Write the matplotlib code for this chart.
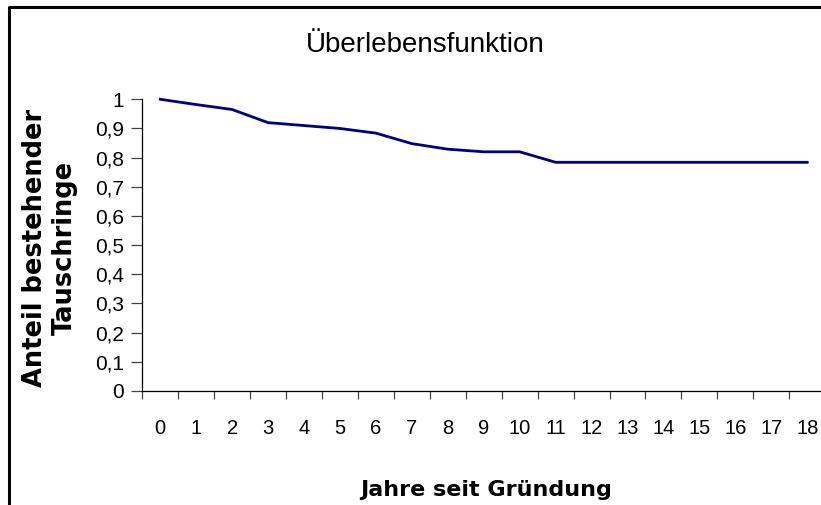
import matplotlib
matplotlib.use("Agg")
from matplotlib import pyplot as plt
from matplotlib.lines import Line2D
import numpy as np

# Jahre seit Gruendung und Anteil bestehender Tauschringe
YEARS = list(range(19))
SURVIVAL = [1.0, 0.982, 0.965, 0.92, 0.91, 0.90, 0.884, 0.848, 0.829, 0.82, 0.82,
            0.784, 0.784, 0.784, 0.784, 0.784, 0.784, 0.784, 0.784]
Y_TICKS = [0, 0.1, 0.2, 0.3, 0.4, 0.5, 0.6, 0.7, 0.8, 0.9, 1]
Y_TICK_LABELS = ["0", "0,1", "0,2", "0,3", "0,4", "0,5", "0,6", "0,7", "0,8", "0,9", "1"]

W, H = 821, 505
plt.rcParams["font.family"] = ["Liberation Sans", "DejaVu Sans"]

fig = plt.figure(figsize=(W / 100, H / 100), dpi=100)
ax = fig.add_axes([142.3 / W, 1 - 391 / H, 682.9 / W, (391 - 99.3) / H])

ax.plot(YEARS, SURVIVAL, color="#000080", linewidth=2.0, clip_on=False, solid_joinstyle="miter")

ax.set_xlim(-0.5, 18.5)
ax.set_ylim(0, 1)

for s in ["top", "right"]:
    ax.spines[s].set_visible(False)
for s in ["left", "bottom"]:
    ax.spines[s].set_linewidth(0.9)
    ax.spines[s].set_color("black")

ax.set_yticks(Y_TICKS)
ax.set_yticklabels(Y_TICK_LABELS, fontsize=15)
ax.tick_params(axis="y", length=8, width=0.9, color="#444444", pad=5)

# category boundaries get tick marks, category centres get the labels
ax.set_xticks(np.arange(-0.5, 19, 1))
ax.set_xticklabels([])
ax.tick_params(axis="x", which="major", length=5.5, width=0.9, color="#444444")
ax.set_xticks(YEARS, minor=True)
ax.set_xticklabels([str(y) for y in YEARS], minor=True, fontsize=14.5)
ax.tick_params(axis="x", which="minor", length=0, pad=20)

fig.text(425 / W, 1 - 45 / H, "Überlebensfunktion", fontsize=20, ha="center", va="center")
fig.text(486 / W, 1 - 490 / H, "Jahre seit Gründung", fontsize=16, fontweight="bold",
         family="DejaVu Sans", ha="center", va="center")
fig.text(50 / W, 1 - 248 / H, "Anteil bestehender\nTauschringe", fontsize=18.5,
         fontweight="bold", family="DejaVu Sans", rotation=90, ha="center", va="center",
         multialignment="center", linespacing=1.2)

# chart frame (only top and left visible in the crop)
fig.add_artist(Line2D([9 / W, 9 / W, 1], [0, 1 - 7 / H, 1 - 7 / H],
                      transform=fig.transFigure, color="black", linewidth=2.2))

fig.savefig("out.png", dpi=100)
